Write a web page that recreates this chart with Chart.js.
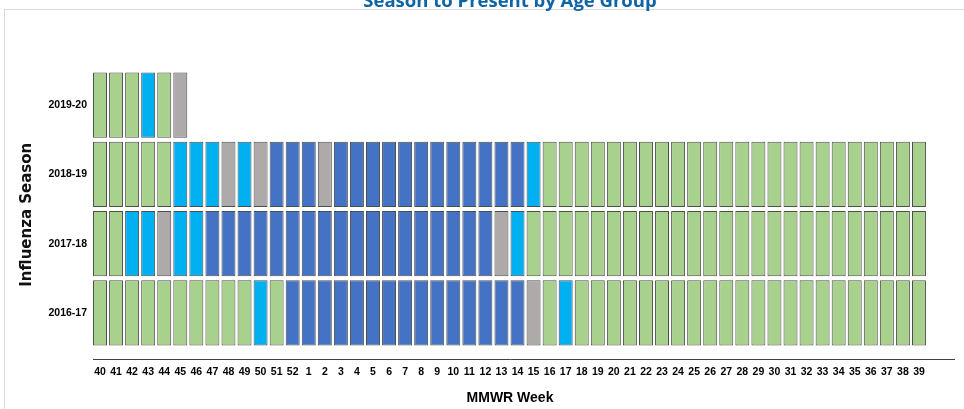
<!DOCTYPE html>
<html>
<head>
<meta charset="utf-8">
<script src="https://cdn.jsdelivr.net/npm/chart.js@4/dist/chart.umd.min.js"></script>
<style>
  html, body { margin: 0; padding: 0; background: #ffffff; }
  #wrap { width: 964px; height: 409px; overflow: hidden; }
</style>
</head>
<body>
<div id="wrap"><canvas id="c" width="964" height="409"></canvas></div>
<script>
// ---- data ----
const weeks = ['40','41','42','43','44','45','46','47','48','49','50','51','52',
  '1','2','3','4','5','6','7','8','9','10','11','12','13','14','15','16','17','18','19',
  '20','21','22','23','24','25','26','27','28','29','30','31','32','33','34','35','36','37','38','39'];
const seasons = ['2016-17','2017-18','2018-19','2019-20'];
// activity level per week: 1 = green, 2 = gray, 3 = light blue, 4 = dark blue
const level2016 = [1,1,1,1,1,1,1,1,1,1,3,1,4,
  4,4,4,4,4,4,4,4,4,4,4,4,4,4,2,1,3,1,1,1,1,1,1,1,1,1,1,1,1,1,1,1,1,1,1,1,1,1,1];
const level2017 = [1,1,3,3,2,3,3,4,4,4,4,4,4,
  4,4,4,4,4,4,4,4,4,4,4,4,2,3,1,1,1,1,1,1,1,1,1,1,1,1,1,1,1,1,1,1,1,1,1,1,1,1,1];
const level2018 = [1,1,1,1,1,3,3,3,2,3,2,4,4,
  4,2,4,4,4,4,4,4,4,4,4,4,4,4,3,1,1,1,1,1,1,1,1,1,1,1,1,1,1,1,1,1,1,1,1,1,1,1,1];
const level2019 = [1,1,1,3,1,2];
const seasonLevels = [level2016, level2017, level2018, level2019];

// ---- styles ----
const levelColors = {1: '#A9D18E', 2: '#AEAAAA', 3: '#00B0F0', 4: '#4472C4'};
const tickFont = "'Liberation Sans Narrow', 'Liberation Sans', Arial, sans-serif";
const axisLineColor = '#404040';

const datasets = seasonLevels.map((lv, row) => ({
  label: seasons[row],
  data: lv.map((v, i) => ({x: i, y: [row + 0.03, row + 0.97], level: v})),
  backgroundColor: ctx => levelColors[ctx.raw ? ctx.raw.level : 1],
  borderColor: '#4d4d4d',
  borderWidth: 1,
  borderSkipped: false,
  grouped: false,
  categoryPercentage: 1,
  barPercentage: 0.87
}));

const deco = {
  id: 'deco',
  beforeDraw(chart) {
    const ctx = chart.ctx;
    ctx.save();
    ctx.strokeStyle = '#D9D9D9';
    ctx.lineWidth = 1;
    ctx.strokeRect(4.5, 9.5, 2000, 2000);
    ctx.restore();
  },
  afterDraw(chart) {
    // the axis rule runs on past the last week column
    const ctx = chart.ctx;
    const a = chart.chartArea;
    const y = Math.floor(a.bottom) + 0.5;
    ctx.save();
    ctx.strokeStyle = axisLineColor;
    ctx.lineWidth = 1;
    ctx.beginPath();
    ctx.moveTo(a.right - 1, y);
    ctx.lineTo(a.right + 28, y);
    ctx.stroke();
    ctx.restore();
  }
};

new Chart(document.getElementById('c'), {
  type: 'bar',
  data: { datasets },
  plugins: [deco],
  options: {
    responsive: false,
    devicePixelRatio: 1,
    animation: false,
    layout: { padding: { left: 0, right: 37, top: 0, bottom: 0 } },
    plugins: {
      legend: { display: false },
      tooltip: { enabled: false },
      title: {
        display: true,
        fullSize: false,
        text: 'Season to Present by Age Group',
        color: '#0F64A6',
        font: { family: "'Open Sans', sans-serif", size: 18.5, weight: 'bold', lineHeight: 1.2 },
        padding: { top: -9.2, bottom: 57.5 }
      }
    },
    scales: {
      x: {
        type: 'linear',
        offset: false,
        min: -0.436,
        max: 51.5,
        grid: { display: false, drawTicks: false },
        border: { display: true, color: axisLineColor, width: 1 },
        afterBuildTicks: s => { s.ticks = weeks.map((w, i) => ({ value: i })); },
        afterFit: s => { s.height = 50; },
        ticks: {
          autoSkip: false,
          maxRotation: 0,
          padding: 7,
          color: '#000',
          font: { family: tickFont, size: 10.5, weight: 'bold' },
          callback: v => weeks[v]
        },
        title: {
          display: true,
          text: 'MMWR Week',
          color: '#000',
          font: { family: tickFont, size: 14, weight: 'bold', lineHeight: 1.2 },
          padding: { top: 0, bottom: 2 }
        }
      },
      y: {
        type: 'linear',
        min: -0.166,
        max: 4,
        grid: { display: false, drawTicks: false },
        border: { display: false },
        afterBuildTicks: s => { s.ticks = seasons.map((n, i) => ({ value: i + 0.5 })); },
        afterFit: s => { s.width = 93; },
        ticks: {
          padding: 6,
          color: '#000',
          font: { family: tickFont, size: 10.5, weight: 'bold' },
          callback: v => seasons[Math.round(v - 0.5)]
        },
        title: {
          display: true,
          text: 'Influenza Season',
          color: '#111',
          font: { family: "'DejaVu Sans', sans-serif", size: 15, weight: 'bold', lineHeight: 1.2 },
          padding: { top: 18, bottom: 0 }
        }
      }
    }
  }
});
</script>
</body>
</html>
